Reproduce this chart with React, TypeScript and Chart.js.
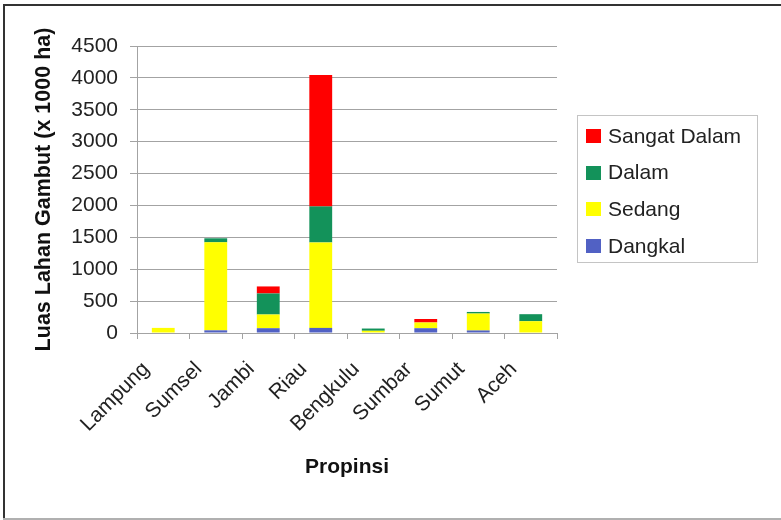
import React, { useEffect, useRef } from "react";
import { Chart, registerables } from "chart.js";

Chart.register(...registerables);

// Peat land area per province, by peat depth class (x 1000 ha)
const provinces = ["Lampung", "Sumsel", "Jambi", "Riau", "Bengkulu", "Sumbar", "Sumut", "Aceh"];
const dangkal = [0, 42, 75, 80, 0, 75, 40, 0];
const sedang = [80, 1380, 215, 1340, 35, 90, 265, 185];
const dalam = [0, 63, 330, 565, 35, 0, 25, 110];
const sangatDalam = [0, 0, 110, 2060, 0, 55, 0, 0];

const seriesNames = ["Dangkal", "Sedang", "Dalam", "Sangat Dalam"];
const seriesColors = ["#5161c4", "#ffff00", "#13925a", "#ff0000"];

const yMin = 0;
const yMax = 4500;
const yStep = 500;

const FONT = "'Liberation Sans', Arial, sans-serif";
const AXIS_GRAY = "#a3a3a3";

// White page with the frame lines along top, left and bottom
const framePlugin = {
  id: "frame",
  beforeDraw(chart: Chart) {
    const { ctx, width, height } = chart;
    ctx.save();
    ctx.fillStyle = "#ffffff";
    ctx.fillRect(0, 0, width, height);
    ctx.fillStyle = "#333333";
    ctx.fillRect(3, 4, width - 3, 2);
    ctx.fillRect(3, 4, 2, height - 4);
    ctx.fillStyle = "#b0b0b0";
    ctx.fillRect(3, height - 2, width - 3, 2);
    ctx.restore();
  },
};

// Boxed legend to the right of the plot, top series first
const boxLegendPlugin = {
  id: "boxLegend",
  afterDraw(chart: Chart) {
    const { ctx } = chart;
    const items = chart.data.datasets
      .map((d) => ({ label: String(d.label), color: String(d.backgroundColor) }))
      .reverse();
    ctx.save();
    ctx.strokeStyle = "#c4c4c4";
    ctx.lineWidth = 1;
    ctx.strokeRect(577.5, 115.5, 180, 147);
    ctx.font = `21px ${FONT}`;
    ctx.textBaseline = "middle";
    ctx.textAlign = "left";
    items.forEach((it, k) => {
      const cy = 136 + k * 36.7;
      ctx.fillStyle = it.color;
      ctx.fillRect(586, Math.round(cy - 7), 15, 14);
      ctx.fillStyle = "#222222";
      ctx.fillText(it.label, 608, cy + 1);
    });
    ctx.restore();
  },
};

export default function App() {
  const canvasRef = useRef<HTMLCanvasElement | null>(null);

  useEffect(() => {
    const canvas = canvasRef.current;
    if (!canvas) return;
    const series = [dangkal, sedang, dalam, sangatDalam];
    const chart = new Chart(canvas, {
      type: "bar",
      data: {
        labels: provinces,
        datasets: series.map((values, i) => ({
          label: seriesNames[i],
          data: values,
          backgroundColor: seriesColors[i],
          borderWidth: 0,
          categoryPercentage: 1,
          barPercentage: 0.435,
        })),
      },
      options: {
        responsive: false,
        animation: false,
        devicePixelRatio: 1,
        layout: { padding: { left: 0, right: 224, top: 46, bottom: 0 } },
        plugins: {
          legend: { display: false },
          tooltip: { enabled: false },
        },
        scales: {
          x: {
            stacked: true,
            grid: {
              display: true,
              drawOnChartArea: false,
              offset: true,
              tickLength: 6,
              color: AXIS_GRAY,
            },
            border: { color: AXIS_GRAY, width: 1 },
            ticks: {
              minRotation: 45,
              maxRotation: 45,
              autoSkip: false,
              padding: 18,
              labelOffset: -17,
              color: "#222222",
              font: { family: FONT, size: 21 },
            },
            title: {
              display: true,
              text: "Propinsi",
              color: "#111111",
              font: { family: FONT, size: 21, weight: "bold" },
              padding: { top: 0, bottom: 40 },
            },
            afterFit(scale: any) {
              scale.height = 187;
            },
          },
          y: {
            stacked: true,
            min: yMin,
            max: yMax,
            ticks: {
              stepSize: yStep,
              padding: 12,
              color: "#222222",
              font: { family: FONT, size: 21 },
              callback: (value: number | string) => String(value),
            },
            grid: { color: AXIS_GRAY, tickLength: 7 },
            border: { color: AXIS_GRAY, width: 1 },
            title: {
              display: true,
              text: "Luas Lahan Gambut (x 1000 ha)",
              color: "#111111",
              font: { family: FONT, size: 21.5, weight: "bold" },
              padding: { top: 31, bottom: 0 },
            },
            afterFit(scale: any) {
              scale.width = 137;
            },
          },
        },
      },
      plugins: [framePlugin, boxLegendPlugin],
    });
    return () => chart.destroy();
  }, []);

  return (
    <div style={{ position: "absolute", left: 0, top: 0, width: 781, height: 520 }}>
      <canvas ref={canvasRef} width={781} height={520} />
    </div>
  );
}
